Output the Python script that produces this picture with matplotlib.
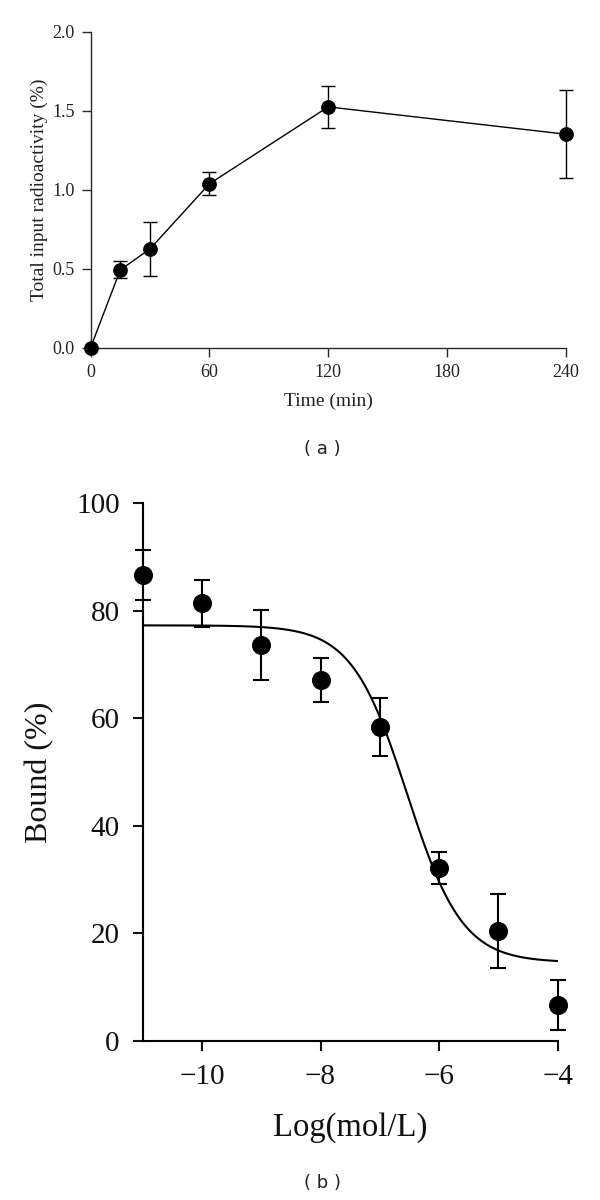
import numpy as np
import matplotlib.pyplot as plt

plt.rcParams['font.family'] = ['Liberation Serif', 'DejaVu Serif']

# panel (a): uptake over time
time_min = [0, 15, 30, 60, 120, 240]
uptake = [0.0, 0.492, 0.625, 1.037, 1.524, 1.351]
uptake_err = [0.0, 0.054, 0.17, 0.072, 0.131, 0.279]

# panel (b): competitive binding
log_conc = [-11, -10, -9, -8, -7, -6, -5, -4]
bound = [86.6, 81.4, 73.7, 67.1, 58.4, 32.2, 20.4, 6.7]
bound_err = [4.65, 4.4, 6.5, 4.05, 5.4, 3.0, 6.9, 4.6]

# fitted sigmoid (top, bottom, logIC50, Hill slope)
fit_top = 77.3
fit_bottom = 14.6
fit_log_ic50 = -6.54
fit_hill = 0.93

axis_col = '#2a2a2a'

fig = plt.figure(figsize=(6, 12), dpi=100)

ax1 = fig.add_axes([0.151, 0.7103, 0.792, 0.2633])
ax1.errorbar(time_min, uptake, yerr=uptake_err, color='black', marker='o',
             markersize=9.6, linewidth=1.0, elinewidth=1.0, capsize=5,
             capthick=1.0, clip_on=False, zorder=3)
ax1.set_xlim(0, 240)
ax1.set_ylim(0, 2.0)
ax1.set_xticks([0, 60, 120, 180, 240])
ax1.set_yticks([0, 0.5, 1.0, 1.5, 2.0])
ax1.set_yticklabels(['0.0', '0.5', '1.0', '1.5', '2.0'])
ax1.set_xlabel('Time (min)', fontsize=14, color='#222222', labelpad=9)
ax1.set_ylabel('Total input radioactivity (%)', fontsize=14, color='#222222', labelpad=3)
ax1.tick_params(labelsize=13, length=6.5, width=1.0, colors=axis_col, labelcolor='#222222', pad=5)
for s in ['top', 'right']:
    ax1.spines[s].set_visible(False)
for s in ['left', 'bottom']:
    ax1.spines[s].set_linewidth(1.0)
    ax1.spines[s].set_color(axis_col)
fig.text(0.538, 1 - 449.5 / 1200, '( a )', ha='center', va='center', fontsize=13,
         family='DejaVu Sans', color='#222222')

ax2 = fig.add_axes([0.2378, 0.1325, 0.6917, 0.4481])
xs = np.linspace(-11, -4, 300)
curve = fit_bottom + (fit_top - fit_bottom) / (1 + 10 ** (fit_hill * (xs - fit_log_ic50)))
ax2.plot(xs, curve, color='black', linewidth=1.5)
ax2.errorbar(log_conc, bound, yerr=bound_err, color='black', marker='o',
             markersize=12.7, linestyle='none', elinewidth=1.5, capsize=5.6,
             capthick=1.5, clip_on=False, zorder=3)
ax2.set_xlim(-11, -4)
ax2.set_ylim(0, 100)
ax2.set_xticks([-10, -8, -6, -4])
ax2.set_yticks([0, 20, 40, 60, 80, 100])
ax2.set_xlabel('Log(mol/L)', fontsize=23.5, color='#111111', labelpad=16)
ax2.set_ylabel('Bound (%)', fontsize=23, color='#111111', labelpad=16)
ax2.tick_params(labelsize=21, length=7.5, width=1.5, colors='#111111', pad=9)
for s in ['top', 'right']:
    ax2.spines[s].set_visible(False)
for s in ['left', 'bottom']:
    ax2.spines[s].set_linewidth(1.5)
fig.text(0.538, 1 - 1183.5 / 1200, '( b )', ha='center', va='center', fontsize=13,
         family='DejaVu Sans', color='#222222')

fig.savefig('out.png', dpi=100)
